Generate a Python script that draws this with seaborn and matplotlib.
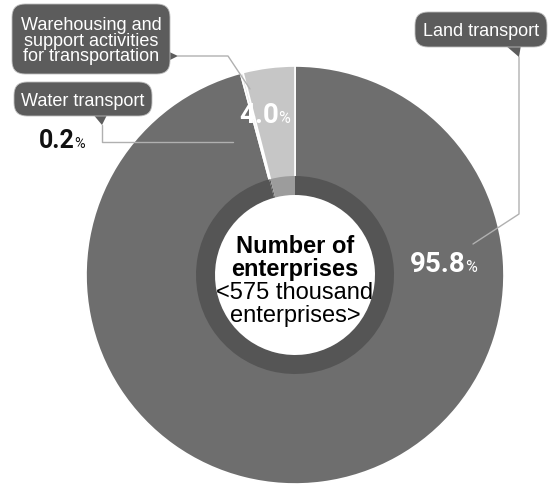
import seaborn as sns
import matplotlib
matplotlib.use('Agg')
import matplotlib.pyplot as plt
from matplotlib import font_manager
from matplotlib.patches import FancyBboxPatch, Polygon

# share of enterprises by transport industry (clockwise from top)
sectors = ['Land transport', 'Water transport', 'Warehousing and\nsupport activities\nfor transportation']
shares = [95.8, 0.2, 4.0]
outer_colors = ['#6e6e6e', '#e0e0e0', '#c6c6c6']
ring_colors = ['#555555', '#555555', '#9c9c9c']
center_lines = ['Number of', 'enterprises', '<575 thousand', 'enterprises>']

sns.set_theme(style='white')
names = {f.name for f in font_manager.fontManager.ttflist}
narrow = 'Liberation Sans Narrow' in names
center_font = 'Liberation Sans Narrow' if narrow else 'Liberation Sans'
center_size = 20 if narrow else 17
plt.rcParams['font.family'] = ['Liberation Sans', 'DejaVu Sans']

fig = plt.figure(figsize=(5.51, 4.85), dpi=100)
ax = fig.add_axes([0, 0, 1, 1])

cx, cy = 295, 276  # pie centre in pixel coords
# outer donut (y axis is inverted later, so start at -90 = top, counterclock = visually clockwise)
ax.pie(shares, colors=outer_colors, radius=209, center=(cx, cy), startangle=-90, counterclock=True,
       wedgeprops=dict(width=129, edgecolor='white', linewidth=1.2))
# darker inner ring
ax.pie(shares, colors=ring_colors, radius=99, center=(cx, cy), startangle=-90, counterclock=True,
       wedgeprops=dict(width=19, edgecolor='none', linewidth=0))

ax.set_xlim(0, 551)
ax.set_ylim(485, 0)
ax.set_aspect('equal')
ax.axis('off')

# centre text
baselines = [253, 276, 299, 322]
for i, (line, yb) in enumerate(zip(center_lines, baselines)):
    ax.text(cx, yb, line, ha='center', va='baseline', fontsize=center_size,
            fontweight='bold' if i < 2 else 'normal', family=center_font, color='black')

# percentage labels, with a smaller % sign
def pct(x, yb, num, color, size):
    ax.text(x, yb, num, ha='right', va='baseline', fontsize=size, fontweight='bold',
            family='Roboto', color=color)
    ax.text(x - 0.5, yb, '%', ha='left', va='baseline', fontsize=size * 0.58,
            family='Roboto', color=color)

pct(466, 272, f'{shares[0]:.1f}', 'white', 20)
pct(279, 123, f'{shares[2]:.1f}', 'white', 20)
pct(75, 148, f'{shares[1]:.1f}', '#111111', 18)

# callout boxes (x0, y0, x1, y1) and tail triangles
box_fc = '#5c5c5c'
boxes = [
    (sectors[0], (415, 13, 547, 48), [(505, 46), (519, 58), (521, 46)]),
    (sectors[2], (12, 5, 170, 75), [(150, 44), (178, 57), (160, 66)]),
    (sectors[1], (14, 83, 152, 117), [(92, 114), (102, 126), (108, 114)]),
]
for label, (x0, y0, x1, y1), tail in boxes:
    ax.add_patch(Polygon(tail, closed=True, fc=box_fc, ec='none', zorder=4))
    ax.add_patch(FancyBboxPatch((x0, y0), x1 - x0, y1 - y0,
                                boxstyle='round,pad=0,rounding_size=13',
                                fc=box_fc, ec='#bdbdbd', lw=0.6, zorder=5))
    ax.text((x0 + x1) / 2, (y0 + y1) / 2 + 1, label, ha='center', va='center', color='white',
            fontsize=13, linespacing=0.92, zorder=6)

# leader lines
line_kw = dict(color='#b0b0b0', lw=1, zorder=3)
ax.plot([519, 519, 473], [58, 215, 245], **line_kw)
ax.plot([178, 228, 250], [57, 57, 90], **line_kw)
ax.plot([102, 102, 233], [126, 143, 143], **line_kw)

fig.savefig('out.png', dpi=100, facecolor='white')
